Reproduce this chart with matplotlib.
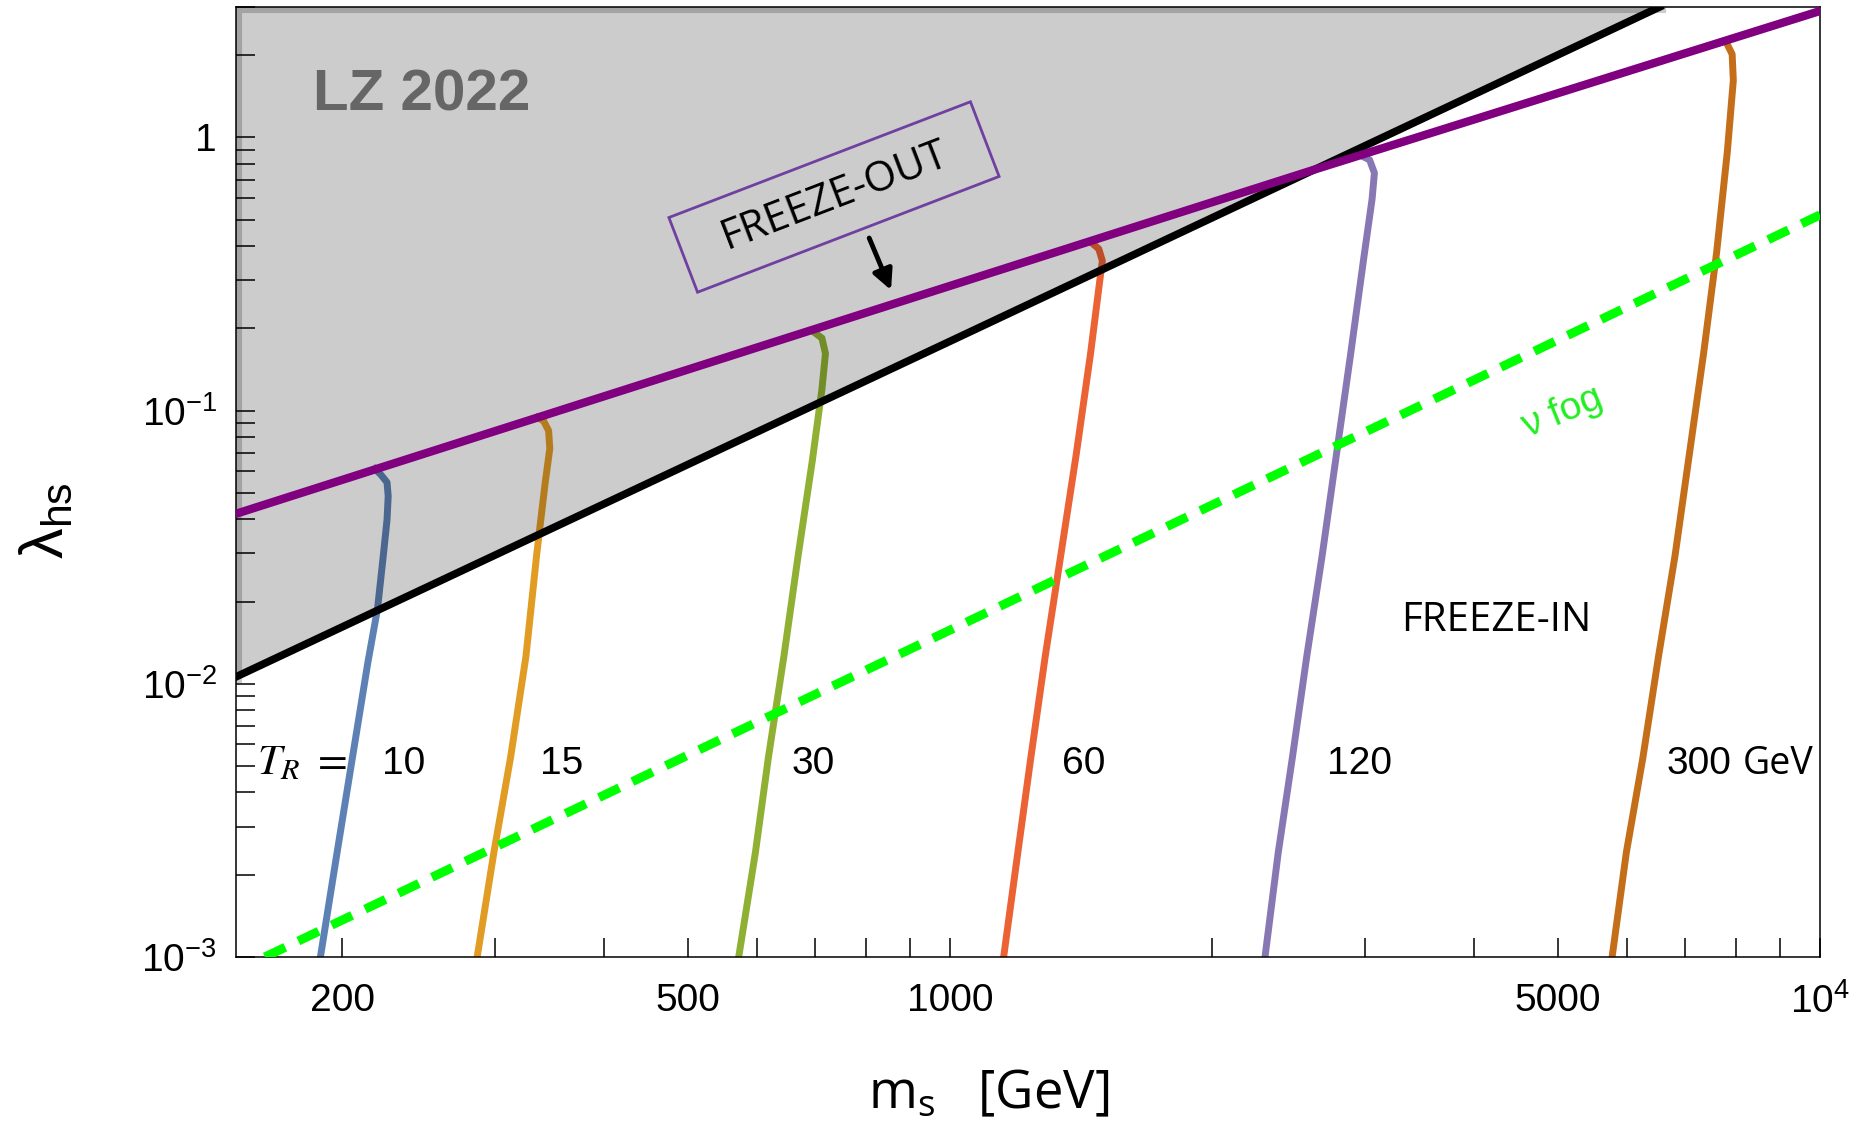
import matplotlib
matplotlib.use("Agg")
import matplotlib.pyplot as plt
from matplotlib.patches import Rectangle
from matplotlib.ticker import FixedLocator, FixedFormatter, NullFormatter

plt.rcParams['font.family'] = ['Liberation Sans', 'DejaVu Sans']

# relic-abundance contours for each reheating temperature T_R (GeV):
# scalar mass m_s [GeV] and portal coupling lambda_hs along each curve
temps = ['10', '15', '30', '60', '120', '300']
colors = ['#5e81b5', '#e19c24', '#8fb032', '#eb6235', '#8778b3', '#c56e1a']

m_tr10 = [188.8, 197.3, 205.5, 214.1, 219.6, 223.0, 225.2, 225.9, 225.2, 221.6, 218.2]
lam_tr10 = [0.001, 0.00241, 0.00537, 0.0120, 0.0188, 0.0295, 0.0398, 0.0486, 0.0546, 0.0582, 0.0611]

m_tr15 = [285.9, 298.8, 312.3, 325.3, 334.6, 342.1, 346.5, 345.4, 341.0, 335.7]
lam_tr15 = [0.001, 0.00241, 0.00537, 0.0126, 0.0295, 0.0537, 0.0726, 0.0844, 0.0914, 0.0942]

m_tr30 = [571.3, 597.1, 618.0, 643.9, 668.7, 694.3, 712.1, 718.8, 712.1, 694.3]
lam_tr30 = [0.001, 0.00241, 0.00537, 0.0126, 0.0295, 0.0657, 0.1197, 0.1617, 0.1841, 0.1956]

m_tr60 = [1152, 1196, 1238, 1286, 1340, 1396, 1450, 1482, 1496, 1482, 1450]
lam_tr60 = [0.001, 0.00241, 0.00537, 0.0126, 0.0295, 0.0691, 0.1617, 0.2804, 0.3530, 0.3903, 0.4145]

m_tr120 = [2301, 2383, 2474, 2570, 2677, 2780, 2887, 2988, 3055, 3074, 3035, 2960]
lam_tr120 = [0.001, 0.00241, 0.00537, 0.0126, 0.0295, 0.0691, 0.1617, 0.3601, 0.5941, 0.7406, 0.8268, 0.8606]

m_tr300 = [5767, 5988, 6257, 6521, 6813, 7075, 7347, 7605, 7824, 7949, 7924, 7801]
lam_tr300 = [0.001, 0.00241, 0.00537, 0.0126, 0.0295, 0.0691, 0.1617, 0.3788, 0.8867, 1.617, 2.015, 2.228]

curves_m = [m_tr10, m_tr15, m_tr30, m_tr60, m_tr120, m_tr300]
curves_lam = [lam_tr10, lam_tr15, lam_tr30, lam_tr60, lam_tr120, lam_tr300]

# where the T_R labels sit
label_m = [235.4, 357.5, 696.6, 1422, 2958, 7257]
label_lam = 0.0051

# LZ 2022 direct-detection bound (excluded above)
lz_m = [151, 1000, 6540]
lz_lam = [0.0106, 0.1794, 3.0]

# freeze-out line
fo_m = [151, 2650, 10000]
fo_lam = [0.0419, 0.77, 2.9]

# neutrino fog
fog_m = [163, 10000]
fog_lam = [0.001, 0.52]

x_major = [200, 500, 1000, 5000, 10000]
x_major_labels = ['200', '500', '1000', '5000', r'$\mathregular{10^{4}}$']
x_minor = [300, 400, 600, 700, 800, 900, 2000, 3000, 4000, 6000, 7000, 8000, 9000]
y_major = [1e-3, 1e-2, 1e-1, 1]
y_major_labels = [r'$\mathregular{10^{-3}}$', r'$\mathregular{10^{-2}}$',
                  r'$\mathregular{10^{-1}}$', '1']
y_minor = [k * 10.0 ** e for e in range(-3, 0) for k in range(2, 10)] + [2, 3]

fig = plt.figure(figsize=(18.57, 11.24), dpi=100)
ax = fig.add_axes([0.1271, 0.1486, 0.853, 0.8452])
ax.set_xscale('log')
ax.set_yscale('log')
ax.set_xlim(151, 1e4)
ax.set_ylim(1e-3, 3)

for m, lam, c in zip(curves_m, curves_lam, colors):
    ax.plot(m, lam, color=c, lw=5, solid_joinstyle='round', zorder=1)

# shaded excluded region, with the darker rim along the frame
ax.fill_between(lz_m, lz_lam, 3.0, facecolor='black', alpha=0.2, lw=0, zorder=2)
ax.plot([lz_m[0], lz_m[0], lz_m[-1]], [lz_lam[0], 3.0, 3.0], color='black',
        alpha=0.2, lw=8, zorder=2)
ax.plot(lz_m, lz_lam, color='black', lw=5.5, zorder=3)
ax.plot(fog_m, fog_lam, color='#00ff00', lw=6.5, dashes=(2.5, 1.6), zorder=3)
ax.plot(fo_m, fo_lam, color='#800080', lw=6, zorder=4)

ax.text(247, 1.42, 'LZ 2022', fontsize=42, fontweight='bold', color='#666666',
        ha='center', va='center')
ax.text(4247, 0.017, 'FREEZE-IN', fontsize=29, family='Open Sans',
        ha='center', va='center')
ax.text(5052, 0.098, 'ν fog', fontsize=28, color='#22ee22', rotation=22,
        ha='center', va='center')

ax.text(736, 0.611, 'FREEZE-OUT', fontsize=30, family='Open Sans', rotation=21,
        ha='center', va='center', rotation_mode='anchor', zorder=6)
box = Rectangle((8.34 - 1.615, 9.27 - 0.40), 3.23, 0.80, angle=21,
                rotation_point='center', transform=fig.dpi_scale_trans,
                fill=False, edgecolor='#7040a0', lw=2)
fig.add_artist(box)
ax.annotate('', xy=(855, 0.276), xytext=(807, 0.428),
            arrowprops=dict(arrowstyle='-|>', color='black', lw=3.5,
                            mutation_scale=30, shrinkA=0, shrinkB=0), zorder=6)

ax.text(180, label_lam, r'$T_R\ =$', fontsize=31, math_fontfamily='stix',
        ha='center', va='center')
for t, xm in zip(temps, label_m):
    ax.text(xm, label_lam, t, fontsize=28, ha='center', va='center')
ax.text(8957, label_lam, 'GeV', fontsize=27, family='Open Sans',
        ha='center', va='center')

ax.xaxis.set_major_locator(FixedLocator(x_major))
ax.xaxis.set_major_formatter(FixedFormatter(x_major_labels))
ax.xaxis.set_minor_locator(FixedLocator(x_minor))
ax.xaxis.set_minor_formatter(NullFormatter())
ax.yaxis.set_major_locator(FixedLocator(y_major))
ax.yaxis.set_major_formatter(FixedFormatter(y_major_labels))
ax.yaxis.set_minor_locator(FixedLocator(y_minor))
ax.yaxis.set_minor_formatter(NullFormatter())

ax.tick_params(which='both', direction='in', length=13.7, width=1.1,
               top=False, right=False)
ax.tick_params(axis='x', which='both', pad=18.7, labelsize=28)
ax.tick_params(axis='y', which='both', pad=13.7, labelsize=28)
for s in ax.spines.values():
    s.set_linewidth(1.1)

ax.set_xlabel('m$_{\\mathregular{s}}$   [GeV]', fontsize=38, family='Open Sans')
ax.xaxis.set_label_coords(0.475, -0.145)
ax.xaxis.label.set_va('center')
ax.set_ylabel('λ$_{\\mathregular{hs}}$', fontsize=44)
ax.yaxis.set_label_coords(-0.119, 0.459)
ax.yaxis.label.set_va('center')

fig.savefig('out.png', dpi=100)
